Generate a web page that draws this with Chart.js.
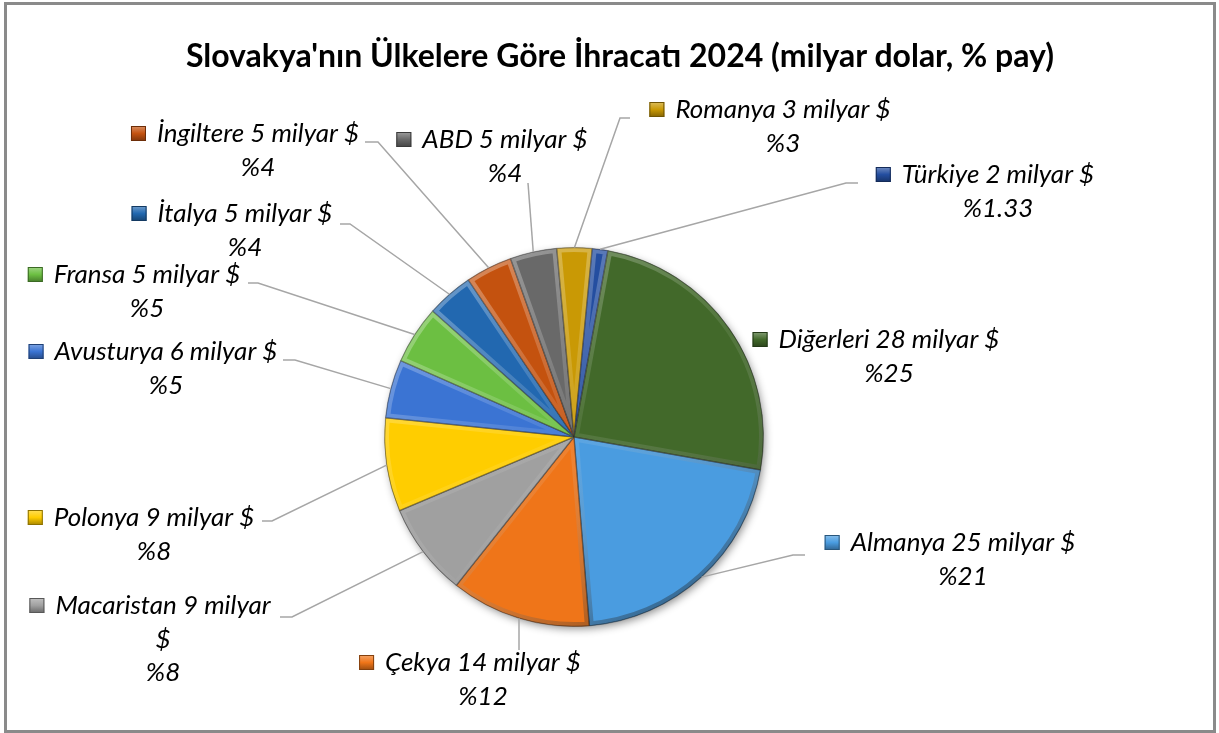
<!DOCTYPE html>
<html lang="tr">
<head>
<meta charset="utf-8">
<title>Slovakya'nın Ülkelere Göre İhracatı 2024</title>
<script src="https://cdn.jsdelivr.net/npm/chart.js@4.4.1/dist/chart.umd.min.js"></script>
<style>
  html, body { margin: 0; padding: 0; background: #fff; }
  #wrap { position: relative; width: 1219px; height: 733px; overflow: hidden; }
  #frame { position: absolute; left: 4px; top: 2px; width: 1206px; height: 725px; border: 3px solid #8a8a8a; }
  #title { position: absolute; left: 20px; width: 1200px; top: 35px; text-align: center;
           font: bold 32px Lato, sans-serif; line-height: 40px; color: #000; }
  canvas { position: absolute; left: 0; top: 0; }
</style>
</head>
<body>
<div id="wrap">
  <div id="frame"></div>
  <canvas id="chartPie" width="1219" height="733"></canvas>
  <div id="title">Slovakya'nın Ülkelere Göre İhracatı 2024 (milyar dolar, % pay)</div>
</div>
<script>
// Data (Excel series order: first slice starts after Diğerleri)
const countries = ['Almanya', 'Çekya', 'Macaristan', 'Polonya', 'Avusturya', 'Fransa',
                   'İtalya', 'İngiltere', 'ABD', 'Romanya', 'Türkiye', 'Diğerleri'];
const exportBn = [25, 14, 9, 9, 6, 5, 5, 5, 5, 3, 2, 28];
const sharePct = [21, 12, 8, 8, 5, 5, 4, 4, 4, 3, 1.33, 25];
const sliceColors = ['#4a9ce0', '#ef7519', '#a0a0a0', '#ffcd00', '#3b74d3', '#6cbf42',
                     '#2268b0', '#c4520f', '#696969', '#c99905', '#244ea0', '#42692a'];

// Label placement: text centre x, first line y, leader start and elbow
const labelLayout = [
    { cx: 963, y: 543, lx: 805, ly: 555, ex: 793 },
    { cx: 483, y: 663, lx: 519, ly: 650, ex: 519 },
    { cx: 163, y: 606, lx: 280, ly: 617, ex: 292, wrap: 225 },
    { cx: 154, y: 518, lx: 262, ly: 521, ex: 272 },
    { cx: 166, y: 352, lx: 283, ly: 360, ex: 295 },
    { cx: 147, y: 275, lx: 248, ly: 283, ex: 258 },
    { cx: 245, y: 214, lx: 340, ly: 224, ex: 350 },
    { cx: 258, y: 134, lx: 365, ly: 142, ex: 378 },
    { cx: 505, y: 140, lx: 528, ly: 183, ex: 528 },
    { cx: 783, y: 110, lx: 630, ly: 118, ex: 620 },
    { cx: 998, y: 175, lx: 858, ly: 183, ex: 846 },
    { cx: 889, y: 340 }
];

const LABEL_FONT = 'italic 26px Lato, sans-serif';
const LINE_GAP = 33;

function shade(hex, amt) {
    const n = parseInt(hex.slice(1), 16);
    let r = (n >> 16) & 255, g = (n >> 8) & 255, b = n & 255;
    const f = v => Math.max(0, Math.min(255, Math.round(amt > 0 ? v + (255 - v) * amt : v * (1 + amt))));
    return `rgb(${f(r)},${f(g)},${f(b)})`;
}

const pieDecor = {
    id: 'pieDecor',
    beforeDatasetsDraw(chart) {
        const a = chart.getDatasetMeta(0).data[0];
        const ctx = chart.ctx;
        ctx.save();
        ctx.shadowColor = 'rgba(0,0,0,0.45)';
        ctx.shadowBlur = 8;
        ctx.shadowOffsetX = 2;
        ctx.shadowOffsetY = 3;
        ctx.beginPath();
        ctx.arc(a.x, a.y, a.outerRadius - 1, 0, Math.PI * 2);
        ctx.fillStyle = '#fff';
        ctx.fill();
        ctx.restore();
    },
    afterDatasetsDraw(chart) {
        const ctx = chart.ctx;
        const meta = chart.getDatasetMeta(0);

        // bevel on each slice
        meta.data.forEach((arc) => {
            const a = arc.getProps(['x', 'y', 'startAngle', 'endAngle', 'outerRadius'], true);
            const R = a.outerRadius;
            ctx.save();
            ctx.beginPath();
            ctx.moveTo(a.x, a.y);
            ctx.arc(a.x, a.y, R, a.startAngle, a.endAngle);
            ctx.closePath();
            ctx.clip();
            const g = ctx.createLinearGradient(a.x - R * 0.7, a.y - R, a.x + R * 0.5, a.y + R);
            g.addColorStop(0, 'rgba(255,255,255,0.35)');
            g.addColorStop(0.5, 'rgba(255,255,255,0.08)');
            g.addColorStop(1, 'rgba(0,0,0,0.4)');
            ctx.lineWidth = 9;
            ctx.lineJoin = 'round';
            ctx.strokeStyle = g;
            ctx.stroke();
            ctx.lineWidth = 1.5;
            ctx.strokeStyle = 'rgba(0,0,0,0.3)';
            ctx.stroke();
            ctx.restore();
        });

        // callout labels
        ctx.save();
        ctx.font = LABEL_FONT;
        ctx.textBaseline = 'middle';
        meta.data.forEach((arc, i) => {
            const a = arc.getProps(['x', 'y', 'startAngle', 'endAngle', 'outerRadius'], true);
            const L = labelLayout[i];

            // leader line
            if (L.lx !== undefined) {
                const mid = (a.startAngle + a.endAngle) / 2;
                const px = a.x + Math.cos(mid) * a.outerRadius;
                const py = a.y + Math.sin(mid) * a.outerRadius;
                ctx.beginPath();
                ctx.moveTo(L.lx, L.ly);
                ctx.lineTo(L.ex, L.ly);
                ctx.lineTo(px, py);
                ctx.strokeStyle = '#a6a6a6';
                ctx.lineWidth = 1.5;
                ctx.stroke();
            }

            // text lines
            const first = `${countries[i]} ${exportBn[i]} milyar $`;
            const lines = [];
            if (L.wrap && ctx.measureText(first).width > L.wrap) {
                const cut = first.lastIndexOf(' ');
                lines.push(first.slice(0, cut), first.slice(cut + 1));
            } else {
                lines.push(first);
            }
            lines.push(`%${sharePct[i]}`);

            ctx.fillStyle = '#000';
            ctx.textAlign = 'center';
            lines.forEach((t, k) => ctx.fillText(t, L.cx, L.y + k * LINE_GAP + (k > 0 ? 1 : 0)));

            // legend key
            const w = ctx.measureText(lines[0]).width;
            const s = 15, sx = L.cx - w / 2 - 26, sy = L.y - 8;
            const kg = ctx.createLinearGradient(sx, sy, sx, sy + s);
            kg.addColorStop(0, shade(sliceColors[i], 0.35));
            kg.addColorStop(0.5, sliceColors[i]);
            kg.addColorStop(1, shade(sliceColors[i], -0.35));
            ctx.fillStyle = kg;
            ctx.fillRect(sx, sy, s, s);
            ctx.strokeStyle = shade(sliceColors[i], -0.45);
            ctx.lineWidth = 1;
            ctx.strokeRect(sx + 0.5, sy + 0.5, s - 1, s - 1);
        });
        ctx.restore();
    }
};

const ctxPie = document.getElementById('chartPie').getContext('2d');
const chartPie = new Chart(ctxPie, {
    type: 'pie',
    data: {
        labels: countries,
        datasets: [{
            data: sharePct,
            backgroundColor: sliceColors,
            borderColor: 'rgba(40,40,40,0.35)',
            borderWidth: 1,
            hoverOffset: 0
        }]
    },
    options: {
        responsive: false,
        animation: false,
        rotation: 100,
        layout: { padding: { left: 384, right: 455, top: 247, bottom: 106 } },
        plugins: {
            legend: { display: false },
            tooltip: { enabled: false },
            title: { display: false }
        },
        events: []
    },
    plugins: [pieDecor]
});
</script>
</body>
</html>
